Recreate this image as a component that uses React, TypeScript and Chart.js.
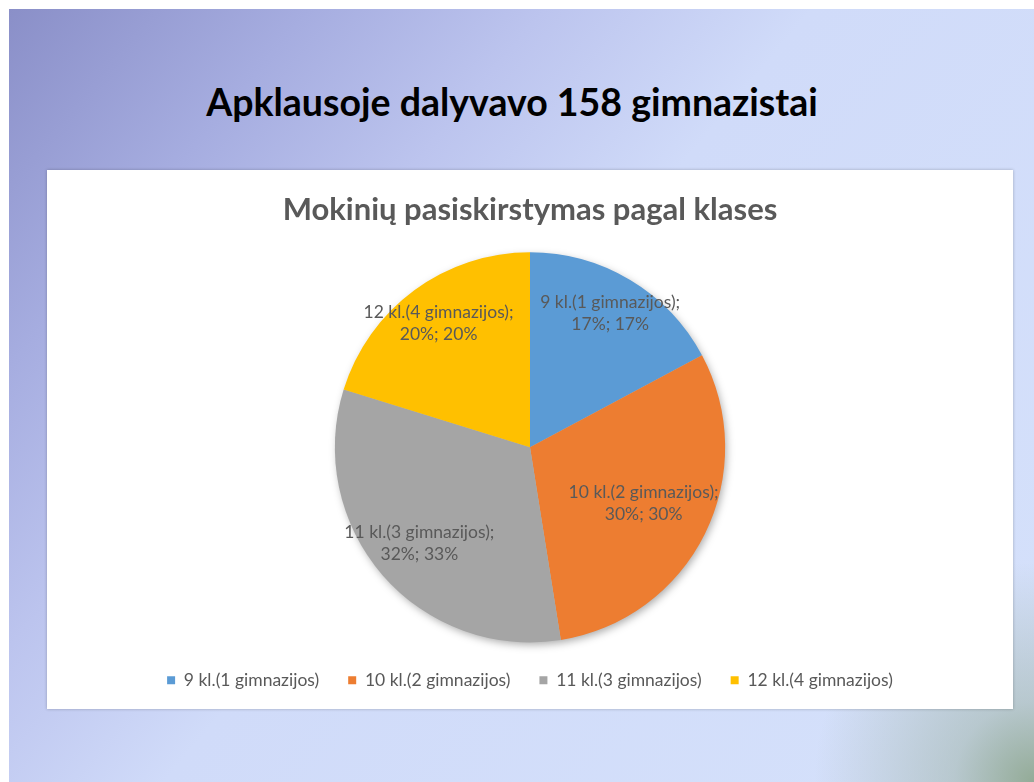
import React, { useEffect, useRef } from "react";
import { Chart, registerables } from "chart.js";

Chart.register(...registerables);

const slideTitle = "Apklausoje dalyvavo 158 gimnazistai";
const chartTitle = "Mokinių pasiskirstymas pagal klases";
const categories = [
  "9 kl.(1 gimnazijos)",
  "10 kl.(2 gimnazijos)",
  "11 kl.(3 gimnazijos)",
  "12 kl.(4 gimnazijos)",
];
const values = [17, 30, 32, 20];
const valueLabels = ["17%", "30%", "32%", "20%"];
const percentLabels = ["17%", "30%", "33%", "20%"];
const colors = ["#5B9BD5", "#ED7D31", "#A5A5A5", "#FFC000"];

const FONT = "Lato, 'Open Sans', sans-serif";

const shadowPlugin = {
  id: "pieShadow",
  beforeDatasetsDraw(chart: any) {
    const meta = chart.getDatasetMeta(0);
    const arc = meta.data[0];
    if (!arc) return;
    const p = arc.getProps(["x", "y", "outerRadius"], true);
    const ctx = chart.ctx;
    ctx.save();
    ctx.shadowColor = "rgba(0,0,0,0.35)";
    ctx.shadowBlur = 8;
    ctx.shadowOffsetX = 2;
    ctx.shadowOffsetY = 3;
    ctx.beginPath();
    ctx.arc(p.x, p.y, p.outerRadius - 1, 0, Math.PI * 2);
    ctx.fillStyle = "#bbbbbb";
    ctx.fill();
    ctx.restore();
  },
};

const labelPlugin = {
  id: "sliceLabels",
  afterDatasetsDraw(chart: any, _args: any, opts: any) {
    const meta = chart.getDatasetMeta(0);
    const ctx = chart.ctx;
    ctx.save();
    ctx.font = opts.font;
    ctx.fillStyle = opts.color;
    ctx.textAlign = "center";
    ctx.textBaseline = "middle";
    meta.data.forEach((arc: any, i: number) => {
      const p = arc.getProps(["x", "y", "startAngle", "endAngle", "outerRadius"], true);
      const mid = (p.startAngle + p.endAngle) / 2;
      const r = p.outerRadius * opts.radii[i];
      const cx = p.x + Math.cos(mid) * r;
      const cy = p.y + Math.sin(mid) * r;
      ctx.fillText(chart.data.labels[i] + ";", cx, cy - opts.lineHeight / 2);
      ctx.fillText(valueLabels[i] + "; " + percentLabels[i], cx, cy + opts.lineHeight / 2);
    });
    ctx.restore();
  },
};

function PieChart() {
  const ref = useRef<HTMLCanvasElement | null>(null);
  useEffect(() => {
    if (!ref.current) return;
    const chart = new Chart(ref.current, {
      type: "pie",
      data: {
        labels: categories,
        datasets: [
          {
            data: values,
            backgroundColor: colors,
            borderWidth: 0,
          },
        ],
      },
      options: {
        responsive: false,
        animation: false,
        layout: { padding: { top: 0, bottom: 10, left: 0, right: 0 } },
        plugins: {
          title: {
            display: true,
            text: chartTitle,
            color: "#595959",
            font: { family: FONT, size: 31, weight: "bold" },
            padding: { top: 21, bottom: 24 },
          },
          legend: {
            position: "bottom",
            labels: {
              boxWidth: 8,
              boxHeight: 8,
              padding: 29,
              color: "#595959",
              font: { family: FONT, size: 17.5 },
            },
          },
          tooltip: { enabled: false },
          sliceLabels: {
            font: "17.5px " + FONT,
            color: "#595959",
            lineHeight: 22,
            radii: [0.8, 0.65, 0.75, 0.79],
          },
        } as any,
      },
      plugins: [shadowPlugin, labelPlugin],
    });
    return () => chart.destroy();
  }, []);
  return <canvas ref={ref} width={966} height={539} style={{ display: "block" }} />;
}

export default function App() {
  return (
    <div
      style={{
        position: "absolute",
        left: 0,
        top: 0,
        width: 1034,
        height: 782,
        background: "#ffffff",
        overflow: "hidden",
      }}
    >
      <div
        style={{
          position: "absolute",
          left: 9,
          top: 9,
          width: 1025,
          height: 773,
          background:
            "radial-gradient(circle at 100% 100%, rgba(140,165,140,0.9) 0px, rgba(160,180,170,0.55) 80px, rgba(190,205,225,0) 220px), linear-gradient(130deg, #8a8fc8 0%, #a6ade0 18%, #bcc4ee 32%, #d0dbf9 48%, #d5e1fb 100%)",
        }}
      />
      <div
        style={{
          position: "absolute",
          left: 0,
          top: 77,
          width: 1024,
          textAlign: "center",
          fontFamily: FONT,
          fontWeight: 700,
          fontSize: 37.5,
          color: "#000",
          lineHeight: "50px",
        }}
      >
        {slideTitle}
      </div>
      <div
        style={{
          position: "absolute",
          left: 47,
          top: 170,
          width: 966,
          height: 539,
          background: "#fff",
          boxShadow: "0 0 3px rgba(0,0,0,0.25)",
        }}
      >
        <PieChart />
      </div>
    </div>
  );
}
